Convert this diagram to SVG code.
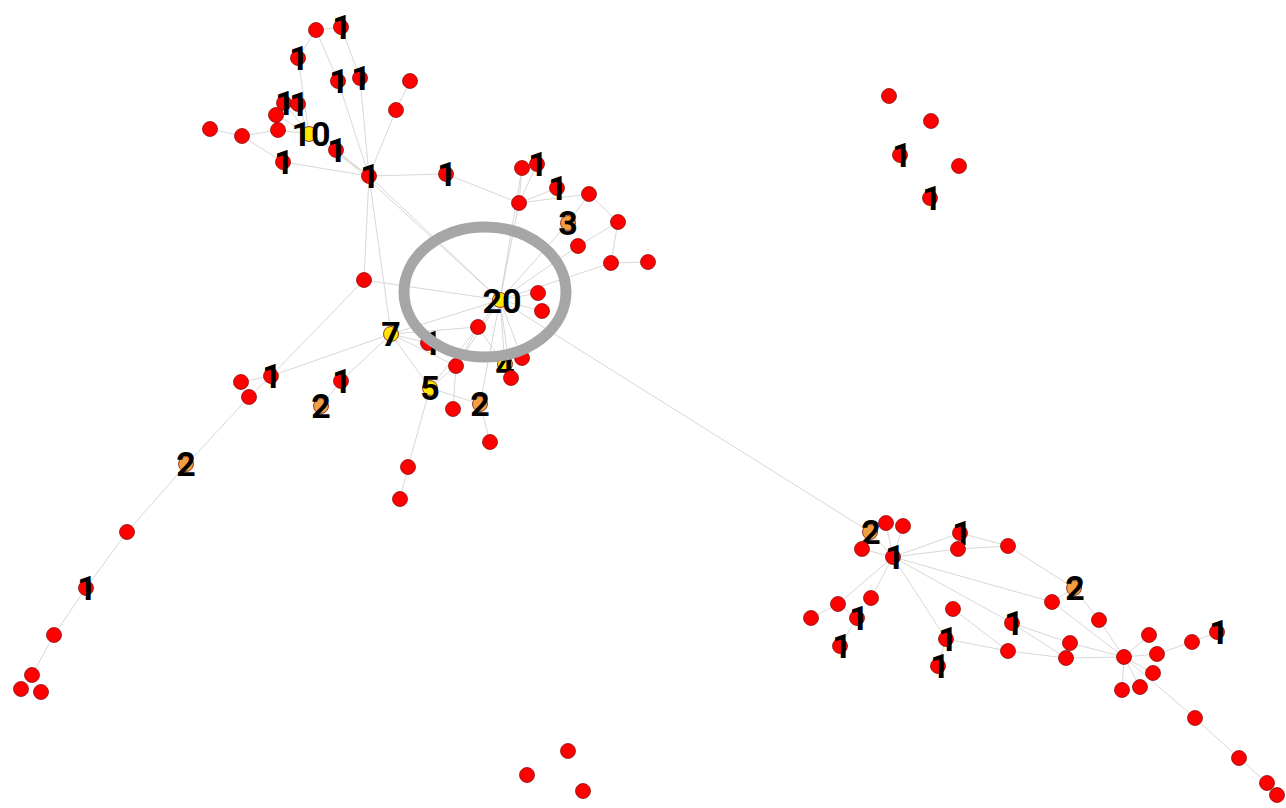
<svg xmlns="http://www.w3.org/2000/svg" width="1286" height="808" viewBox="0 0 1286 808">
<style>
.e line{stroke:#cdcdcd;stroke-width:0.8;fill:none}
circle{stroke:#8a1010;stroke-width:0.8}
.r{fill:#ff0000}
.y{fill:#ffe600}
.o{fill:#f0a040}
.ring{fill:none;stroke:#a6a6a6;stroke-width:11}
</style>
<rect width="1286" height="808" fill="#fff"/>
<g id="connectors" class="e">
<line x1="316" y1="30" x2="341" y2="27"/>
<line x1="316" y1="30" x2="298" y2="58"/>
<line x1="316" y1="30" x2="338" y2="81"/>
<line x1="338" y1="81" x2="369" y2="176"/>
<line x1="341" y1="27" x2="360" y2="78"/>
<line x1="360" y1="78" x2="369" y2="176"/>
<line x1="298" y1="58" x2="309" y2="134"/>
<line x1="410" y1="81" x2="396" y2="110"/>
<line x1="396" y1="110" x2="369" y2="176"/>
<line x1="284" y1="103" x2="309" y2="134"/>
<line x1="298" y1="104" x2="309" y2="134"/>
<line x1="276" y1="115" x2="309" y2="134"/>
<line x1="278" y1="130" x2="309" y2="134"/>
<line x1="210" y1="129" x2="242" y2="136"/>
<line x1="242" y1="136" x2="278" y2="130"/>
<line x1="242" y1="136" x2="283" y2="162"/>
<line x1="283" y1="162" x2="369" y2="176"/>
<line x1="309" y1="134" x2="336" y2="150"/>
<line x1="336" y1="150" x2="369" y2="176"/>
<line x1="309" y1="134" x2="369" y2="176"/>
<line x1="369" y1="176" x2="446" y2="174"/>
<line x1="446" y1="174" x2="519" y2="203"/>
<line x1="369" y1="176" x2="500" y2="300"/>
<line x1="336" y1="150" x2="500" y2="300"/>
<line x1="369" y1="176" x2="391" y2="334"/>
<line x1="369" y1="176" x2="364" y2="280"/>
<line x1="364" y1="280" x2="500" y2="300"/>
<line x1="364" y1="280" x2="271" y2="376"/>
<line x1="241" y1="382" x2="271" y2="376"/>
<line x1="271" y1="376" x2="249" y2="397"/>
<line x1="249" y1="397" x2="186" y2="465"/>
<line x1="271" y1="376" x2="391" y2="334"/>
<line x1="341" y1="381" x2="391" y2="334"/>
<line x1="321" y1="406" x2="341" y2="381"/>
<line x1="186" y1="465" x2="127" y2="532"/>
<line x1="127" y1="532" x2="86" y2="588"/>
<line x1="86" y1="588" x2="54" y2="635"/>
<line x1="54" y1="635" x2="32" y2="675"/>
<line x1="391" y1="334" x2="500" y2="300"/>
<line x1="391" y1="334" x2="478" y2="327"/>
<line x1="391" y1="334" x2="428" y2="343"/>
<line x1="391" y1="334" x2="456" y2="366"/>
<line x1="391" y1="334" x2="430" y2="388"/>
<line x1="430" y1="388" x2="408" y2="467"/>
<line x1="408" y1="467" x2="400" y2="499"/>
<line x1="430" y1="388" x2="480" y2="404"/>
<line x1="430" y1="388" x2="456" y2="366"/>
<line x1="430" y1="388" x2="478" y2="327"/>
<line x1="456" y1="366" x2="453" y2="409"/>
<line x1="456" y1="366" x2="478" y2="327"/>
<line x1="456" y1="366" x2="500" y2="300"/>
<line x1="480" y1="404" x2="490" y2="442"/>
<line x1="480" y1="404" x2="500" y2="300"/>
<line x1="478" y1="327" x2="500" y2="300"/>
<line x1="478" y1="327" x2="505" y2="366"/>
<line x1="500" y1="300" x2="505" y2="366"/>
<line x1="500" y1="300" x2="511" y2="378"/>
<line x1="500" y1="300" x2="522" y2="358"/>
<line x1="500" y1="300" x2="538" y2="293"/>
<line x1="500" y1="300" x2="542" y2="311"/>
<line x1="519" y1="203" x2="500" y2="300"/>
<line x1="522" y1="168" x2="519" y2="203"/>
<line x1="537" y1="164" x2="519" y2="203"/>
<line x1="522" y1="168" x2="500" y2="300"/>
<line x1="519" y1="203" x2="557" y2="188"/>
<line x1="519" y1="203" x2="589" y2="194"/>
<line x1="589" y1="194" x2="568" y2="223"/>
<line x1="589" y1="194" x2="618" y2="222"/>
<line x1="618" y1="222" x2="611" y2="263"/>
<line x1="611" y1="263" x2="648" y2="262"/>
<line x1="618" y1="222" x2="578" y2="246"/>
<line x1="568" y1="223" x2="500" y2="300"/>
<line x1="578" y1="246" x2="500" y2="300"/>
<line x1="611" y1="263" x2="500" y2="300"/>
<line x1="500" y1="300" x2="870" y2="532"/>
<line x1="870" y1="532" x2="893" y2="557"/>
<line x1="886" y1="523" x2="893" y2="557"/>
<line x1="903" y1="526" x2="893" y2="557"/>
<line x1="862" y1="549" x2="893" y2="557"/>
<line x1="893" y1="557" x2="960" y2="533"/>
<line x1="893" y1="557" x2="958" y2="549"/>
<line x1="960" y1="533" x2="1008" y2="546"/>
<line x1="958" y1="549" x2="1008" y2="546"/>
<line x1="1008" y1="546" x2="1074" y2="588"/>
<line x1="893" y1="557" x2="1052" y2="602"/>
<line x1="893" y1="557" x2="1012" y2="623"/>
<line x1="893" y1="557" x2="871" y2="598"/>
<line x1="893" y1="557" x2="838" y2="604"/>
<line x1="838" y1="604" x2="811" y2="618"/>
<line x1="838" y1="604" x2="857" y2="618"/>
<line x1="857" y1="618" x2="840" y2="646"/>
<line x1="893" y1="557" x2="946" y2="639"/>
<line x1="946" y1="639" x2="938" y2="666"/>
<line x1="946" y1="639" x2="1008" y2="651"/>
<line x1="953" y1="609" x2="1008" y2="651"/>
<line x1="1012" y1="623" x2="1070" y2="643"/>
<line x1="1012" y1="623" x2="1066" y2="658"/>
<line x1="1008" y1="651" x2="1066" y2="658"/>
<line x1="1052" y1="602" x2="1074" y2="588"/>
<line x1="1052" y1="602" x2="1124" y2="657"/>
<line x1="1074" y1="588" x2="1099" y2="620"/>
<line x1="1099" y1="620" x2="1124" y2="657"/>
<line x1="1070" y1="643" x2="1124" y2="657"/>
<line x1="1066" y1="658" x2="1124" y2="657"/>
<line x1="1124" y1="657" x2="1149" y2="635"/>
<line x1="1124" y1="657" x2="1157" y2="654"/>
<line x1="1124" y1="657" x2="1153" y2="673"/>
<line x1="1124" y1="657" x2="1140" y2="687"/>
<line x1="1124" y1="657" x2="1122" y2="690"/>
<line x1="1157" y1="654" x2="1192" y2="642"/>
<line x1="1192" y1="642" x2="1217" y2="632"/>
<line x1="1124" y1="657" x2="1195" y2="718"/>
<line x1="1195" y1="718" x2="1239" y2="758"/>
<line x1="1239" y1="758" x2="1267" y2="783"/>
</g>
<g id="nodes" font-family="Roboto, 'Liberation Sans', sans-serif" font-weight="bold" font-size="34" fill="#000" text-anchor="middle">
<g id="a1"><circle class="r" cx="316" cy="30" r="7.5"/></g>
<g id="a2"><circle class="r" cx="341" cy="27" r="7.5"/><text x="342" y="39">1</text></g>
<g id="a3"><circle class="r" cx="298" cy="58" r="7.5"/><text x="299" y="70">1</text></g>
<g id="a4"><circle class="r" cx="338" cy="81" r="7.5"/><text x="339" y="93">1</text></g>
<g id="a5"><circle class="r" cx="360" cy="78" r="7.5"/><text x="361" y="90">1</text></g>
<g id="a6"><circle class="r" cx="410" cy="81" r="7.5"/></g>
<g id="a7"><circle class="r" cx="396" cy="110" r="7.5"/></g>
<g id="a8"><circle class="r" cx="284" cy="103" r="7.5"/><text x="285" y="115">1</text></g>
<g id="a9"><circle class="r" cx="298" cy="104" r="7.5"/><text x="299" y="116">1</text></g>
<g id="a10"><circle class="r" cx="276" cy="115" r="7.5"/></g>
<g id="a11"><circle class="r" cx="278" cy="130" r="7.5"/></g>
<g id="a12"><circle class="y" cx="309" cy="134" r="7.5"/><text x="311" y="146">10</text></g>
<g id="a13"><circle class="r" cx="210" cy="129" r="7.5"/></g>
<g id="a14"><circle class="r" cx="242" cy="136" r="7.5"/></g>
<g id="a15"><circle class="r" cx="283" cy="162" r="7.5"/><text x="284" y="174">1</text></g>
<g id="a16"><circle class="r" cx="336" cy="150" r="7.5"/><text x="337" y="162">1</text></g>
<g id="a17"><circle class="r" cx="369" cy="176" r="7.5"/><text x="370" y="188">1</text></g>
<g id="a18"><circle class="r" cx="446" cy="174" r="7.5"/><text x="447" y="186">1</text></g>
<g id="a19"><circle class="r" cx="519" cy="203" r="7.5"/></g>
<g id="a20"><circle class="r" cx="522" cy="168" r="7.5"/></g>
<g id="a21"><circle class="r" cx="537" cy="164" r="7.5"/><text x="538" y="176">1</text></g>
<g id="a22"><circle class="r" cx="557" cy="188" r="7.5"/><text x="558" y="200">1</text></g>
<g id="a23"><circle class="r" cx="589" cy="194" r="7.5"/></g>
<g id="a24"><circle class="o" cx="568" cy="223" r="7.5"/><text x="568" y="235">3</text></g>
<g id="a25"><circle class="r" cx="618" cy="222" r="7.5"/></g>
<g id="a26"><circle class="r" cx="578" cy="246" r="7.5"/></g>
<g id="a27"><circle class="r" cx="611" cy="263" r="7.5"/></g>
<g id="a28"><circle class="r" cx="648" cy="262" r="7.5"/></g>
<g id="a29"><circle class="r" cx="538" cy="293" r="7.5"/></g>
<g id="a30"><circle class="r" cx="542" cy="311" r="7.5"/></g>
<g id="a31"><circle class="y" cx="500" cy="300" r="7.5"/><text x="502" y="313">20</text></g>
<g id="a32"><circle class="r" cx="364" cy="280" r="7.5"/></g>
<g id="a33"><circle class="y" cx="391" cy="334" r="7.5"/><text x="391" y="346">7</text></g>
<g id="a34"><circle class="r" cx="428" cy="343" r="7.5"/><text x="432" y="355">1</text></g>
<g id="a35"><circle class="r" cx="478" cy="327" r="7.5"/></g>
<g id="a36"><circle class="r" cx="456" cy="366" r="7.5"/></g>
<g id="a37"><circle class="y" cx="430" cy="388" r="7.5"/><text x="430" y="400">5</text></g>
<g id="a38"><circle class="r" cx="453" cy="409" r="7.5"/></g>
<g id="a39"><circle class="o" cx="480" cy="404" r="7.5"/><text x="480" y="416">2</text></g>
<g id="a40"><circle class="r" cx="490" cy="442" r="7.5"/></g>
<g id="a41"><circle class="r" cx="522" cy="358" r="7.5"/></g>
<g id="a42"><circle class="y" cx="505" cy="364" r="7.5"/><text x="505" y="378">4</text></g>
<g id="a43"><circle class="r" cx="511" cy="378" r="7.5"/></g>
<g id="a44"><circle class="r" cx="271" cy="376" r="7.5"/><text x="272" y="388">1</text></g>
<g id="a45"><circle class="r" cx="241" cy="382" r="7.5"/></g>
<g id="a46"><circle class="r" cx="249" cy="397" r="7.5"/></g>
<g id="a47"><circle class="r" cx="341" cy="381" r="7.5"/><text x="342" y="393">1</text></g>
<g id="a48"><circle class="o" cx="321" cy="406" r="7.5"/><text x="321" y="418">2</text></g>
<g id="a49"><circle class="r" cx="408" cy="467" r="7.5"/></g>
<g id="a50"><circle class="r" cx="400" cy="499" r="7.5"/></g>
<g id="a51"><circle class="o" cx="186" cy="464" r="7.5"/><text x="186" y="476">2</text></g>
<g id="a52"><circle class="r" cx="127" cy="532" r="7.5"/></g>
<g id="a53"><circle class="r" cx="86" cy="588" r="7.5"/><text x="87" y="600">1</text></g>
<g id="a54"><circle class="r" cx="54" cy="635" r="7.5"/></g>
<g id="a55"><circle class="r" cx="32" cy="675" r="7.5"/></g>
<g id="a56"><circle class="r" cx="21" cy="689" r="7.5"/></g>
<g id="a57"><circle class="r" cx="41" cy="692" r="7.5"/></g>
<g id="b1"><circle class="r" cx="889" cy="96" r="7.5"/></g>
<g id="b2"><circle class="r" cx="931" cy="121" r="7.5"/></g>
<g id="b3"><circle class="r" cx="900" cy="155" r="7.5"/><text x="902" y="167">1</text></g>
<g id="b4"><circle class="r" cx="959" cy="166" r="7.5"/></g>
<g id="b5"><circle class="r" cx="930" cy="198" r="7.5"/><text x="932" y="210">1</text></g>
<g id="c1"><circle class="r" cx="568" cy="751" r="7.5"/></g>
<g id="c2"><circle class="r" cx="527" cy="775" r="7.5"/></g>
<g id="c3"><circle class="r" cx="583" cy="791" r="7.5"/></g>
<g id="d1"><circle class="o" cx="870" cy="532" r="7.5"/><text x="871" y="544">2</text></g>
<g id="d2"><circle class="r" cx="886" cy="523" r="7.5"/></g>
<g id="d3"><circle class="r" cx="903" cy="526" r="7.5"/></g>
<g id="d4"><circle class="r" cx="862" cy="549" r="7.5"/></g>
<g id="d5"><circle class="r" cx="893" cy="557" r="7.5"/><text x="895" y="569">1</text></g>
<g id="d6"><circle class="r" cx="960" cy="533" r="7.5"/><text x="962" y="545">1</text></g>
<g id="d7"><circle class="r" cx="958" cy="549" r="7.5"/></g>
<g id="d8"><circle class="r" cx="1008" cy="546" r="7.5"/></g>
<g id="d9"><circle class="r" cx="871" cy="598" r="7.5"/></g>
<g id="d10"><circle class="r" cx="838" cy="604" r="7.5"/></g>
<g id="d11"><circle class="r" cx="811" cy="618" r="7.5"/></g>
<g id="d12"><circle class="r" cx="857" cy="618" r="7.5"/><text x="859" y="630">1</text></g>
<g id="d13"><circle class="r" cx="840" cy="646" r="7.5"/><text x="842" y="658">1</text></g>
<g id="d14"><circle class="r" cx="953" cy="609" r="7.5"/></g>
<g id="d15"><circle class="r" cx="946" cy="639" r="7.5"/><text x="948" y="651">1</text></g>
<g id="d16"><circle class="r" cx="938" cy="666" r="7.5"/><text x="940" y="678">1</text></g>
<g id="d17"><circle class="r" cx="1012" cy="623" r="7.5"/><text x="1014" y="635">1</text></g>
<g id="d18"><circle class="r" cx="1008" cy="651" r="7.5"/></g>
<g id="d19"><circle class="r" cx="1052" cy="602" r="7.5"/></g>
<g id="d20"><circle class="o" cx="1074" cy="588" r="7.5"/><text x="1075" y="600">2</text></g>
<g id="d21"><circle class="r" cx="1099" cy="620" r="7.5"/></g>
<g id="d22"><circle class="r" cx="1070" cy="643" r="7.5"/></g>
<g id="d23"><circle class="r" cx="1066" cy="658" r="7.5"/></g>
<g id="d24"><circle class="r" cx="1124" cy="657" r="7.5"/></g>
<g id="d25"><circle class="r" cx="1149" cy="635" r="7.5"/></g>
<g id="d26"><circle class="r" cx="1157" cy="654" r="7.5"/></g>
<g id="d27"><circle class="r" cx="1153" cy="673" r="7.5"/></g>
<g id="d28"><circle class="r" cx="1140" cy="687" r="7.5"/></g>
<g id="d29"><circle class="r" cx="1122" cy="690" r="7.5"/></g>
<g id="d30"><circle class="r" cx="1192" cy="642" r="7.5"/></g>
<g id="d31"><circle class="r" cx="1217" cy="632" r="7.5"/><text x="1219" y="644">1</text></g>
<g id="d32"><circle class="r" cx="1195" cy="718" r="7.5"/></g>
<g id="d33"><circle class="r" cx="1239" cy="758" r="7.5"/></g>
<g id="d34"><circle class="r" cx="1267" cy="783" r="7.5"/></g>
<g id="d35"><circle class="r" cx="1277" cy="795" r="7.5"/></g>
</g>
<g id="highlight"><ellipse class="ring" cx="485" cy="292" rx="81" ry="65"/></g>
</svg>
